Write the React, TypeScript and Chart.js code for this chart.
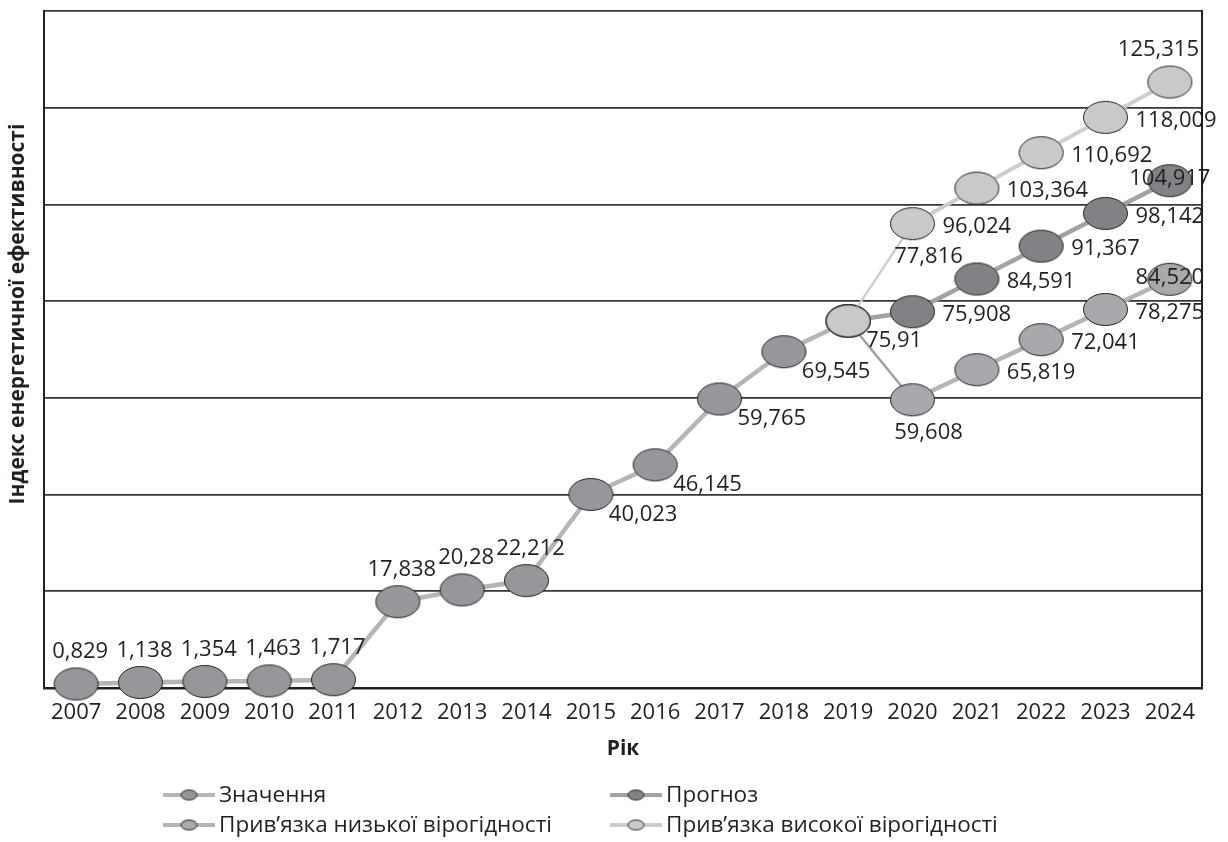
import React, { useEffect, useRef } from "react";
import { Chart, registerables } from "chart.js";

Chart.register(...registerables);

const categories = ["2007", "2008", "2009", "2010", "2011", "2012", "2013", "2014", "2015", "2016", "2017", "2018", "2019", "2020", "2021", "2022", "2023", "2024"];

const N = null;
const valuesSeries = [0.829, 1.138, 1.354, 1.463, 1.717, 17.838, 20.28, 22.212, 40.023, 46.145, 59.765, 69.545, 75.91, N, N, N, N, N];
const forecastSeries = [N, N, N, N, N, N, N, N, N, N, N, N, 75.91, 77.816, 84.591, 91.367, 98.142, 104.917];
const lowSeries = [N, N, N, N, N, N, N, N, N, N, N, N, 75.91, 59.608, 65.819, 72.041, 78.275, 84.52];
const highSeries = [N, N, N, N, N, N, N, N, N, N, N, N, 75.91, 96.024, 103.364, 110.692, 118.009, 125.315];

const valuesLabels = ["0,829", "1,138", "1,354", "1,463", "1,717", "17,838", "20,28", "22,212", "40,023", "46,145", "59,765", "69,545", "75,91", N, N, N, N, N];
const forecastLabels = [N, N, N, N, N, N, N, N, N, N, N, N, N, "75,908", "84,591", "91,367", "98,142", "104,917"];
const lowLabels = [N, N, N, N, N, N, N, N, N, N, N, N, N, "59,608", "65,819", "72,041", "78,275", "84,520"];
const highLabels = [N, N, N, N, N, N, N, N, N, N, N, N, N, "96,024", "103,364", "110,692", "118,009", "125,315"];
const highExtraLabels = [N, N, N, N, N, N, N, N, N, N, N, N, N, "77,816", N, N, N, N];

const seriesNames = ["Значення", "Прогноз", "Прив’язка низької вірогідності", "Прив’язка високої вірогідності"];

const yTicks = [0, 20, 40, 60, 80, 100, 120, 140];

const FONT = "'Open Sans', 'Noto Sans', sans-serif";
const TEXT = "#231f20";

function ellipseCanvas(w: number, h: number, fill: string, lw: number) {
  const c = document.createElement("canvas");
  c.width = w + 2;
  c.height = h + 2;
  const ctx = c.getContext("2d")!;
  ctx.beginPath();
  ctx.ellipse(c.width / 2, c.height / 2, w / 2 - lw / 2, h / 2 - lw / 2, 0, 0, Math.PI * 2);
  ctx.fillStyle = fill;
  ctx.fill();
  ctx.lineWidth = lw;
  ctx.strokeStyle = TEXT;
  ctx.stroke();
  return c;
}

export default function App() {
  const ref = useRef<HTMLCanvasElement | null>(null);

  useEffect(() => {
    document.body.style.margin = "0";
    const canvas = ref.current!;

    const styles = [
      { fill: "#96979a", line: "#b5b5b5", name: seriesNames[0] },
      { fill: "#808285", line: "#a2a2a2", name: seriesNames[1] },
      { fill: "#a7a9ac", line: "#b4b4b4", name: seriesNames[2] },
      { fill: "#c8c9cb", line: "#cdcdcd", name: seriesNames[3] },
    ];
    const bigPts = styles.map((s) => ellipseCanvas(45, 33, s.fill, 1));
    const smallPts = styles.map((s) => ellipseCanvas(17, 11, s.fill, 1));

    type Place = "above" | "belowRight" | "right" | "center" | "below";
    const labelSets: { ds: number; texts: (string | null)[]; place: (i: number) => Place }[] = [
      { ds: 0, texts: valuesLabels, place: (i) => (i <= 7 ? "above" : "belowRight") },
      { ds: 1, texts: forecastLabels, place: (i) => (i === 17 ? "center" : "right") },
      { ds: 2, texts: lowLabels, place: (i) => (i === 13 ? "below" : i === 17 ? "center" : "right") },
      { ds: 3, texts: highLabels, place: (i) => (i === 17 ? "above" : "right") },
      { ds: 3, texts: highExtraLabels, place: () => "below" },
    ];

    const overlay = {
      id: "overlay",
      afterDatasetsDraw(chart: any) {
        const ctx = chart.ctx;
        const area = chart.chartArea;
        ctx.save();
        ctx.strokeStyle = TEXT;
        ctx.lineWidth = 2;
        ctx.beginPath();
        ctx.moveTo(area.right, area.top - 1);
        ctx.lineTo(area.right, area.bottom);
        ctx.stroke();

        ctx.font = `22px ${FONT}`;
        ctx.fillStyle = TEXT;
        ctx.textBaseline = "middle";
        ctx.textAlign = "left";
        for (const set of labelSets) {
          const meta = chart.getDatasetMeta(set.ds);
          set.texts.forEach((t, i) => {
            if (!t) return;
            const el = meta.data[i];
            if (!el) return;
            const x = el.x;
            const y = el.y;
            const w = ctx.measureText(t).width;
            const p = set.place(i);
            let lx = 0;
            let ly = 0;
            if (p === "above") {
              lx = x + 4 - w / 2;
              ly = y - 32;
              if (lx + w > area.right - 3) lx = area.right - 3 - w;
            } else if (p === "belowRight") {
              lx = x + 18;
              ly = y + 20;
            } else if (p === "right") {
              lx = x + 30;
              ly = y + 3;
            } else if (p === "center") {
              lx = x - w / 2;
              ly = y - 2;
            } else {
              lx = x + 16 - w / 2;
              ly = y + 33;
            }
            ctx.fillText(t, lx, ly);
          });
        }
        ctx.restore();
      },
      afterDraw(chart: any) {
        const ctx = chart.ctx;
        const area = chart.chartArea;
        ctx.save();
        ctx.fillStyle = TEXT;
        ctx.font = `bold 21px ${FONT}`;
        ctx.textAlign = "center";
        ctx.textBaseline = "middle";
        ctx.fillText("Рік", (area.left + area.right) / 2, 749);
        ctx.save();
        ctx.translate(18, 314);
        ctx.rotate(-Math.PI / 2);
        ctx.fillText("Індекс енергетичної ефективності", 0, 0);
        ctx.restore();

        const pos = [
          [163, 795],
          [610, 795],
          [163, 825],
          [610, 825],
        ];
        ctx.font = `22.5px ${FONT}`;
        ctx.textAlign = "left";
        styles.forEach((s, i) => {
          const [x0, y0] = pos[i];
          ctx.strokeStyle = s.line;
          ctx.lineWidth = 4;
          ctx.beginPath();
          ctx.moveTo(x0, y0);
          ctx.lineTo(x0 + 52, y0);
          ctx.stroke();
          const sp = smallPts[i];
          ctx.drawImage(sp, x0 + 26 - sp.width / 2, y0 - sp.height / 2);
          ctx.fillStyle = TEXT;
          ctx.fillText(s.name, x0 + 56, y0 + 1);
        });
        ctx.restore();
      },
    };

    const thin = (idx: number, thinW: number, thickW: number) => (c: any) => (c.p0DataIndex === idx ? thinW : thickW);

    const chart = new Chart(canvas, {
      type: "line",
      data: {
        labels: categories,
        datasets: [
          {
            label: seriesNames[0],
            data: valuesSeries,
            borderColor: styles[0].line,
            borderWidth: 4.5,
            pointStyle: bigPts[0] as any,
            pointRadius: 22,
            order: 3,
            clip: false as any,
          },
          {
            label: seriesNames[1],
            data: forecastSeries,
            borderColor: styles[1].line,
            borderWidth: 4.5,
            pointStyle: bigPts[1] as any,
            pointRadius: 22,
            order: 1,
            clip: false as any,
          },
          {
            label: seriesNames[2],
            data: lowSeries,
            borderColor: styles[2].line,
            borderWidth: 4.5,
            pointStyle: bigPts[2] as any,
            pointRadius: 22,
            order: 2,
            clip: false as any,
            segment: { borderWidth: thin(12, 2.5, 4.5), borderColor: (c: any) => (c.p0DataIndex === 12 ? "#a0a0a0" : styles[2].line) },
          },
          {
            label: seriesNames[3],
            data: highSeries,
            borderColor: styles[3].line,
            borderWidth: 4,
            pointStyle: bigPts[3] as any,
            pointRadius: 22,
            order: 0,
            clip: false as any,
            segment: { borderWidth: thin(12, 2.5, 4) },
          },
        ],
      },
      options: {
        responsive: false,
        animation: false,
        events: [],
        layout: { autoPadding: false, padding: { top: 11, right: 26, left: 0, bottom: 0 } },
        plugins: { legend: { display: false }, tooltip: { enabled: false } },
        scales: {
          x: {
            z: 1,
            offset: true,
            grid: { display: false, drawTicks: false, offset: true },
            border: { display: true, color: TEXT, width: 2.5 },
            ticks: { font: { family: FONT, size: 22 }, color: TEXT, padding: 12, maxRotation: 0, autoSkip: false },
            afterFit: (s: any) => {
              s.height = 154;
              s.paddingLeft = 0;
              s.paddingRight = 0;
            },
          },
          y: {
            min: yTicks[0],
            max: yTicks[yTicks.length - 1],
            afterBuildTicks: (s: any) => {
              s.ticks = yTicks.map((v) => ({ value: v }));
            },
            ticks: { display: false },
            grid: { color: "#363636", lineWidth: 1.8, drawTicks: false },
            border: { display: true, color: TEXT, width: 2 },
            afterFit: (s: any) => {
              s.width = 44;
              s.paddingTop = 0;
              s.paddingBottom = 0;
            },
          },
        },
      },
      plugins: [overlay],
    });

    return () => chart.destroy();
  }, []);

  return (
    <div style={{ width: 1228, height: 842, background: "#fff" }}>
      <canvas ref={ref} width={1228} height={842} style={{ display: "block" }} />
    </div>
  );
}
